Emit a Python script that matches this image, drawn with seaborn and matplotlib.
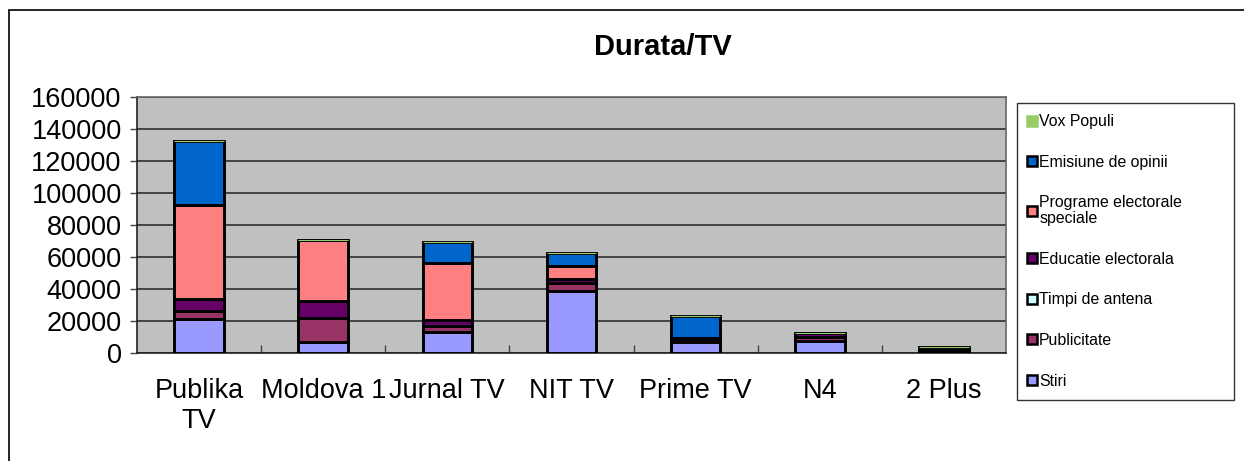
import numpy as np
import seaborn as sns
import matplotlib.pyplot as plt
from matplotlib.lines import Line2D
from matplotlib.patches import Rectangle

plt.rcParams['font.family'] = ['Liberation Sans', 'DejaVu Sans']

cats = ["Publika\nTV", "Moldova 1", "Jurnal TV", "NIT TV", "Prime TV", "N4", "2 Plus"]
stiri = [21500, 6900, 13300, 38700, 6600, 7300, 1500]
publicitate = [5000, 14700, 3300, 4800, 1800, 2500, 600]
timpi = [0, 0, 0, 0, 0, 0, 0]
educatie = [7000, 10700, 3800, 2900, 700, 2500, 1600]
programe = [59000, 38300, 35600, 7900, 0, 0, 0]
emisiune = [40000, 0, 13100, 8300, 14000, 0, 0]
vox = [200, 200, 200, 0, 200, 0, 0]

series = [
    ("Stiri", stiri, "#9999FF"),
    ("Publicitate", publicitate, "#993366"),
    ("Timpi de antena", timpi, "#CCFFFF"),
    ("Educatie electorala", educatie, "#660066"),
    ("Programe electorale\nspeciale", programe, "#FF8080"),
    ("Emisiune de opinii", emisiune, "#0066CC"),
    ("Vox Populi", vox, "#99CC66"),
]

fig = plt.figure(figsize=(12.44, 4.61), dpi=100)
ax = fig.add_axes([137 / 1244, 1 - 353 / 461, (1006 - 137) / 1244, (353 - 97) / 461])
ax.set_facecolor("#C0C0C0")

bottom = np.zeros(len(cats))
for name, vals, col in series:
    vals = np.array(vals, dtype=float)
    if name == "Vox Populi":
        sns.barplot(x=cats, y=vals, bottom=bottom, color=col, width=0.4,
                    edgecolor=col, linewidth=0.8, ax=ax, saturation=1, zorder=3)
    else:
        sns.barplot(x=cats, y=vals, bottom=bottom, color=col, width=0.4,
                    edgecolor="black", linewidth=2.1, ax=ax, saturation=1, zorder=3)
    bottom += vals

ax.set_ylim(0, 160000)
ax.set_xlim(-0.5, len(cats) - 0.5)
ax.set_yticks(np.arange(0, 160001, 20000))
ax.yaxis.grid(True, color="#222222", linewidth=1.1, zorder=0)
ax.set_axisbelow(True)
ax.set_xlabel("")
ax.set_ylabel("")
ax.tick_params(axis="y", labelsize=19.5, length=5, width=1, color="#444444", pad=6)
ax.tick_params(axis="x", which="major", labelsize=19.5, length=0, pad=18)
ax.set_xticks(np.arange(0.5, len(cats) - 1, 1), minor=True)
ax.tick_params(axis="x", which="minor", direction="in", length=6, width=1, color="#444444")
for s in ax.spines.values():
    s.set_color("#666666")
    s.set_linewidth(1.2)
ax.spines["left"].set_color("#222222")
ax.spines["bottom"].set_color("#222222")

fig.text(663 / 1244, 1 - 47 / 461, "Durata/TV", fontsize=21, fontweight="bold",
         ha="center", va="center")

handles = []
labels = []
for name, vals, col in reversed(series):
    ec = col if name == "Vox Populi" else "black"
    handles.append(Line2D([], [], linestyle="none", marker="s", markersize=7,
                          markerfacecolor=col, markeredgecolor=ec, markeredgewidth=1.8))
    labels.append(name)
leg = fig.legend(handles, labels, loc="upper left",
                 bbox_to_anchor=(1017 / 1244, 1 - 103 / 461, 217 / 1244, 0),
                 mode="expand", fontsize=11.4, frameon=True, fancybox=False,
                 labelspacing=1.62, handlelength=0.5, handletextpad=0.2,
                 borderpad=0.7, borderaxespad=0)
leg.get_frame().set_edgecolor("black")
leg.get_frame().set_linewidth(1)
for t in leg.get_texts():
    t.set_linespacing(1.05)

fig.add_artist(Rectangle((9 / 1244, -0.5), 2, 0.5 + 1 - 9.5 / 461, transform=fig.transFigure,
                         fill=False, edgecolor="black", linewidth=1.2))

plt.savefig("out.png", dpi=100)
